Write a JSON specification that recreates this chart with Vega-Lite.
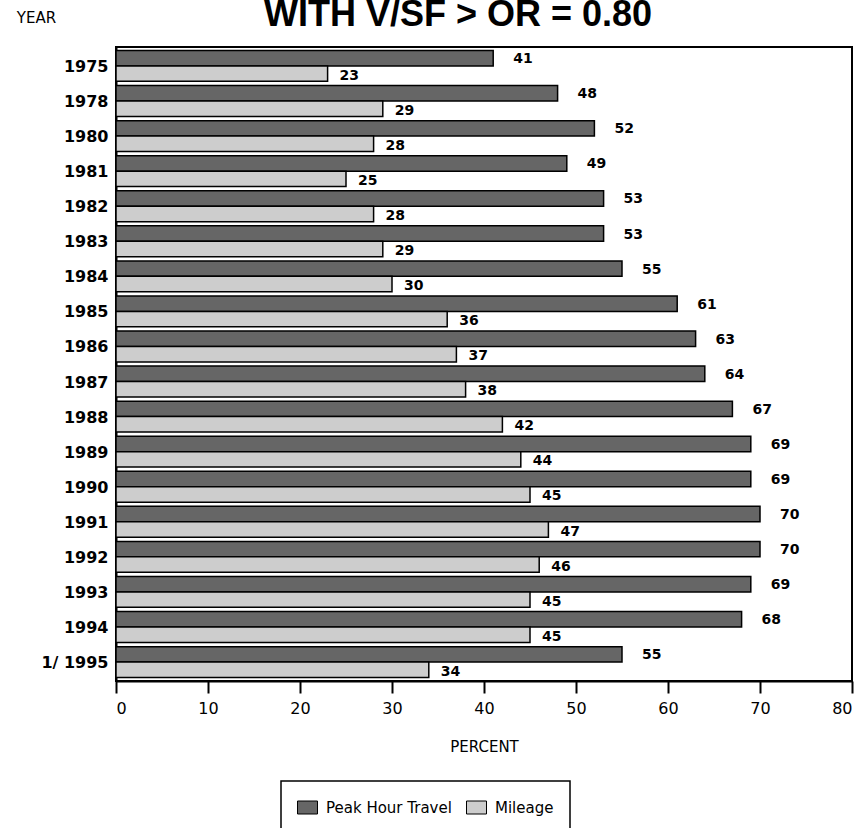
{
  "$schema": "https://vega.github.io/schema/vega-lite/v6.json",
  "autosize": "none",
  "padding": {"left": 116, "top": 47, "right": 14, "bottom": 147},
  "width": 736,
  "height": 634,
  "background": "white",
  "title": {
    "text": "WITH V/SF > OR = 0.80",
    "font": "Liberation Sans",
    "fontSize": 36,
    "fontWeight": "bold",
    "color": "black",
    "anchor": "middle",
    "frame": "group",
    "baseline": "top",
    "offset": 0,
    "dx": -26,
    "dy": 24
  },
  "data": {
    "values": [
      {"year": "1975", "series": "Peak Hour Travel", "value": 41},
      {"year": "1975", "series": "Mileage", "value": 23},
      {"year": "1978", "series": "Peak Hour Travel", "value": 48},
      {"year": "1978", "series": "Mileage", "value": 29},
      {"year": "1980", "series": "Peak Hour Travel", "value": 52},
      {"year": "1980", "series": "Mileage", "value": 28},
      {"year": "1981", "series": "Peak Hour Travel", "value": 49},
      {"year": "1981", "series": "Mileage", "value": 25},
      {"year": "1982", "series": "Peak Hour Travel", "value": 53},
      {"year": "1982", "series": "Mileage", "value": 28},
      {"year": "1983", "series": "Peak Hour Travel", "value": 53},
      {"year": "1983", "series": "Mileage", "value": 29},
      {"year": "1984", "series": "Peak Hour Travel", "value": 55},
      {"year": "1984", "series": "Mileage", "value": 30},
      {"year": "1985", "series": "Peak Hour Travel", "value": 61},
      {"year": "1985", "series": "Mileage", "value": 36},
      {"year": "1986", "series": "Peak Hour Travel", "value": 63},
      {"year": "1986", "series": "Mileage", "value": 37},
      {"year": "1987", "series": "Peak Hour Travel", "value": 64},
      {"year": "1987", "series": "Mileage", "value": 38},
      {"year": "1988", "series": "Peak Hour Travel", "value": 67},
      {"year": "1988", "series": "Mileage", "value": 42},
      {"year": "1989", "series": "Peak Hour Travel", "value": 69},
      {"year": "1989", "series": "Mileage", "value": 44},
      {"year": "1990", "series": "Peak Hour Travel", "value": 69},
      {"year": "1990", "series": "Mileage", "value": 45},
      {"year": "1991", "series": "Peak Hour Travel", "value": 70},
      {"year": "1991", "series": "Mileage", "value": 47},
      {"year": "1992", "series": "Peak Hour Travel", "value": 70},
      {"year": "1992", "series": "Mileage", "value": 46},
      {"year": "1993", "series": "Peak Hour Travel", "value": 69},
      {"year": "1993", "series": "Mileage", "value": 45},
      {"year": "1994", "series": "Peak Hour Travel", "value": 68},
      {"year": "1994", "series": "Mileage", "value": 45},
      {"year": "1/ 1995", "series": "Peak Hour Travel", "value": 55},
      {"year": "1/ 1995", "series": "Mileage", "value": 34}
    ]
  },
  "config": {
    "view": {"stroke": "black", "strokeWidth": 2},
    "axis": {"grid": false, "domainColor": "black", "tickColor": "black", "labelColor": "black", "titleColor": "black"},
    "legend": {
      "orient": "none",
      "legendX": 165,
      "legendY": 734,
      "direction": "horizontal",
      "strokeColor": "black",
      "strokeWidth": 1.5,
      "fillColor": "white",
      "padding": 16,
      "symbolType": "M-1,-0.65H1V0.65H-1Z",
      "symbolSize": 400,
      "symbolStrokeColor": "black",
      "symbolStrokeWidth": 1,
      "symbolOpacity": 1,
      "labelFont": "DejaVu Sans",
      "labelFontSize": 15,
      "labelColor": "black",
      "labelOffset": 8,
      "columnPadding": 12
    }
  },
  "encoding": {
    "y": {
      "field": "year",
      "type": "ordinal",
      "sort": null,
      "scale": {"paddingInner": 0.12, "paddingOuter": 0.1},
      "axis": {
        "title": "YEAR",
        "titleAngle": 0,
        "titleX": -80,
        "titleY": -25,
        "titleAlign": "center",
        "titleBaseline": "alphabetic",
        "titleFont": "DejaVu Sans",
        "titleFontSize": 15,
        "titleFontWeight": "normal",
        "labelFont": "DejaVu Sans",
        "labelFontSize": 16,
        "labelFontWeight": "bold",
        "labelPadding": 8,
        "labelOffset": 1,
        "ticks": false,
        "domainWidth": 2
      }
    },
    "yOffset": {
      "field": "series",
      "type": "nominal",
      "scale": {"domain": ["Peak Hour Travel", "Mileage"], "paddingInner": 0, "paddingOuter": 0}
    },
    "x": {
      "field": "value",
      "type": "quantitative",
      "scale": {"domain": [0, 80], "nice": false},
      "axis": {
        "values": [0, 10, 20, 30, 40, 50, 60, 70, 80],
        "tickSize": 12,
        "tickWidth": 2,
        "domainWidth": 2,
        "labelFont": "DejaVu Sans",
        "labelFontSize": 16,
        "labelPadding": 7,
        "title": "PERCENT",
        "titleFont": "DejaVu Sans",
        "titleFontSize": 15,
        "titleFontWeight": "normal",
        "titleY": 70,
        "titleBaseline": "alphabetic"
      }
    }
  },
  "layer": [
    {
      "mark": {"type": "bar", "stroke": "black", "strokeWidth": 1.5},
      "encoding": {
        "color": {
          "field": "series",
          "type": "nominal",
          "scale": {"domain": ["Peak Hour Travel", "Mileage"], "range": ["#666666", "#cdcdcd"]},
          "legend": {"title": null}
        }
      }
    },
    {
      "transform": [{"filter": "datum.series === 'Peak Hour Travel'"}],
      "mark": {"type": "text", "align": "left", "baseline": "middle", "dx": 20, "dy": 1, "font": "DejaVu Sans", "fontSize": 14, "fontWeight": "bold", "color": "black"},
      "encoding": {"text": {"field": "value", "type": "quantitative"}}
    },
    {
      "transform": [{"filter": "datum.series === 'Mileage'"}],
      "mark": {"type": "text", "align": "left", "baseline": "middle", "dx": 12, "dy": 2, "font": "DejaVu Sans", "fontSize": 14, "fontWeight": "bold", "color": "black"},
      "encoding": {"text": {"field": "value", "type": "quantitative"}}
    }
  ]
}
